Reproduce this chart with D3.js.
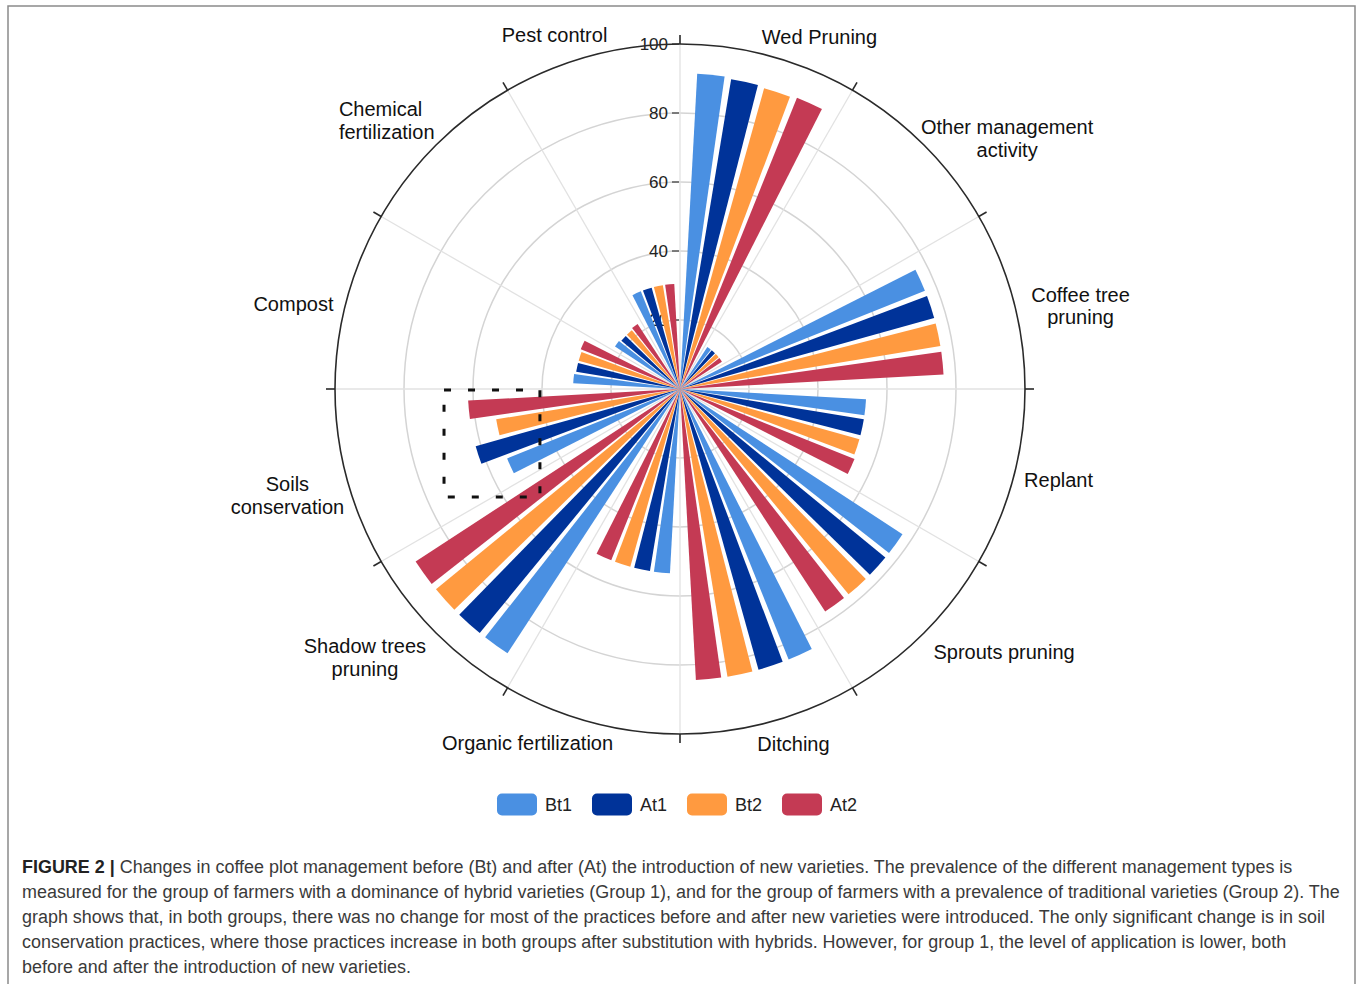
<!DOCTYPE html>
<html><head><meta charset="utf-8">
<script src="https://cdn.jsdelivr.net/npm/d3@7"></script>
<style>
body{margin:0;background:#fff;}
svg{display:block;font-family:"Liberation Sans",Arial,Helvetica,sans-serif;}
</style>
</head><body>
<svg id="chart" width="1358" height="984"></svg>
<script>
// ---------- data ----------
const categories = ["Wed Pruning","Other management activity","Coffee tree pruning","Replant","Sprouts pruning","Ditching","Organic fertilization","Shadow trees pruning","Soils conservation","Compost","Chemical fertilization","Pest control"];
const categoryLabelLines = [["Wed Pruning"],["Other management","activity"],["Coffee tree","pruning"],["Replant"],["Sprouts pruning"],["Ditching"],["Organic fertilization"],["Shadow trees","pruning"],["Soils","conservation"],["Compost"],["Chemical","fertilization"],["Pest control"]];
const seriesNames = ["Bt1","At1","Bt2","At2"];
const bt1 = [91.5, 14.5, 76.5, 54.0, 77.0, 84.5, 53.5, 91.5, 54.0, 31.0, 22.5, 30.5];
const at1 = [91.0, 14.5, 76.5, 54.0, 77.0, 84.5, 53.5, 91.5, 61.5, 30.5, 22.0, 30.5];
const bt2 = [90.5, 14.5, 76.5, 54.0, 77.0, 84.5, 53.5, 91.5, 54.0, 30.5, 22.0, 30.5];
const at2 = [91.0, 14.5, 76.5, 54.5, 77.0, 84.5, 53.5, 91.5, 61.5, 31.0, 22.5, 30.5];
const radialTicks = [20, 40, 60, 80, 100];
const captionLines = [
  "Changes in coffee plot management before (Bt) and after (At) the introduction of new varieties. The prevalence of the different management types is",
  "measured for the group of farmers with a dominance of hybrid varieties (Group 1), and for the group of farmers with a prevalence of traditional varieties (Group 2). The",
  "graph shows that, in both groups, there was no change for most of the practices before and after new varieties were introduced. The only significant change is in soil",
  "conservation practices, where those practices increase in both groups after substitution with hybrids. However, for group 1, the level of application is lower, both",
  "before and after the introduction of new varieties."
];
const captionLead = "FIGURE 2 | ";

// ---------- style / layout ----------
const seriesColors = ["#4a90e2","#003399","#ff9a40","#c43a54"];
const W = 1358, H = 984;
const cx = 680, cy = 389, R = 345;
// label nudges relative to polar anchor (dx, dy), layout only
const labelNudge = [[45,1],[69,-4],[48,0],[26,-3],[66,5],[19,2],[-58,1],[-57,-1],[-40,1],[-34,9],[-83,-22],[-31,-1]];
const labelAnchor = ["middle","middle","middle","middle","middle","middle","middle","middle","middle","middle","start","middle"];
// highlighted region (dashed box) in data units: radial extents
const boxRange = {left: 68.4, right: 40.6, top: 0.3, bottom: 31.3};

const svg = d3.select("#chart");
svg.append("rect").attr("width", W).attr("height", H).attr("fill", "#fff");
// frame
svg.append("rect").attr("x", 8).attr("y", 6).attr("width", 1347).attr("height", 1000)
  .attr("fill", "none").attr("stroke", "#8a8a8a").attr("stroke-width", 1.5);

const g = svg.append("g").attr("transform", `translate(${cx},${cy})`);

const x = d3.scaleBand().domain(categories).range([0, 2 * Math.PI]).paddingInner(0).paddingOuter(0);
const xs = d3.scaleBand().domain(seriesNames).range([0, x.bandwidth()]).paddingInner(0.2).paddingOuter(0.5);
const r = d3.scaleLinear().domain([0, 100]).range([0, R]);

const polar = (a, rad) => [Math.sin(a) * rad, -Math.cos(a) * rad];

// grid circles
g.selectAll("circle.grid").data(radialTicks.filter(t => t < 100)).join("circle")
  .attr("class", "grid").attr("r", d => r(d)).attr("fill", "none")
  .attr("stroke", "#d4d4d4").attr("stroke-width", 1.5);

// radial lines at category boundaries
g.selectAll("line.spoke").data(categories).join("line")
  .attr("class", "spoke")
  .attr("x1", 0).attr("y1", 0)
  .attr("x2", d => polar(x(d), R)[0]).attr("y2", d => polar(x(d), R)[1])
  .attr("stroke", "#e2e2e2").attr("stroke-width", 1.3);

// radial axis ticks + labels (under bars)
const ax = g.append("g");
ax.selectAll("line").data(radialTicks).join("line")
  .attr("x1", -8).attr("x2", -1)
  .attr("y1", d => -r(d)).attr("y2", d => -r(d))
  .attr("stroke", "#444").attr("stroke-width", 1.3);
ax.selectAll("text").data(radialTicks).join("text")
  .attr("x", -12).attr("y", d => -r(d)).attr("dy", "0.35em")
  .attr("text-anchor", "end").attr("font-size", 17).attr("fill", "#222")
  .text(d => d);

// outer circle
g.append("circle").attr("r", r(100)).attr("fill", "none").attr("stroke", "#2a2a2a").attr("stroke-width", 1.6);
// outer ticks
g.selectAll("line.otick").data(categories).join("line")
  .attr("class", "otick")
  .attr("x1", d => polar(x(d), R)[0]).attr("y1", d => polar(x(d), R)[1])
  .attr("x2", d => polar(x(d), R + 9)[0]).attr("y2", d => polar(x(d), R + 9)[1])
  .attr("stroke", "#2a2a2a").attr("stroke-width", 1.6);

// bars
const seriesData = [bt1, at1, bt2, at2];
const arc = d3.arc().innerRadius(0);
seriesNames.forEach((s, si) => {
  g.append("g").selectAll("path").data(categories.map((c, i) => ({c, v: seriesData[si][i]}))).join("path")
    .attr("d", d => arc({
      outerRadius: r(d.v),
      startAngle: x(d.c) + xs(s),
      endAngle: x(d.c) + xs(s) + xs.bandwidth()
    }))
    .attr("fill", seriesColors[si]);
});

// category labels
categories.forEach((c, i) => {
  const a = x(c) + x.bandwidth() / 2;
  const [px, py] = polar(a, R + 20);
  const lx = px + labelNudge[i][0], ly = py + labelNudge[i][1];
  const t = g.append("text").attr("font-size", 20).attr("fill", "#111")
    .attr("text-anchor", labelAnchor[i]);
  categoryLabelLines[i].forEach((ln, k) => {
    t.append("tspan").attr("x", lx).attr("y", ly + k * 22.6).attr("dy", "0.35em").text(ln);
  });
});

// dashed highlight box
g.append("rect")
  .attr("x", -r(boxRange.left)).attr("y", r(boxRange.top))
  .attr("width", r(boxRange.left) - r(boxRange.right))
  .attr("height", r(boxRange.bottom) - r(boxRange.top))
  .attr("fill", "none").attr("stroke", "#111").attr("stroke-width", 3)
  .attr("stroke-dasharray", "7,17");

// legend
const legend = svg.append("g").attr("transform", "translate(497,793.5)");
seriesNames.forEach((s, i) => {
  const lg = legend.append("g").attr("transform", `translate(${i * 95},0)`);
  lg.append("rect").attr("width", 40).attr("height", 22).attr("rx", 5).attr("fill", seriesColors[i]);
  lg.append("text").attr("x", 48).attr("y", 11).attr("dy", "0.36em")
    .attr("font-size", 18).attr("fill", "#222").text(s);
});

// caption
const cap = svg.append("g").attr("fill", "#3a3a3a");
const probe = cap.append("text").attr("font-size", 16).text(captionLines[1]);
const w16 = probe.node().getComputedTextLength();
probe.remove();
const capFont = 16 * (1318 / w16);
captionLines.forEach((ln, i) => {
  const t = cap.append("text").attr("x", 22).attr("y", 873 + i * 25).attr("font-size", capFont);
  if (i === 0) {
    t.append("tspan").attr("font-weight", "bold").attr("fill", "#222").text(captionLead);
  }
  t.append("tspan").text(ln);
});
</script>
</body></html>
